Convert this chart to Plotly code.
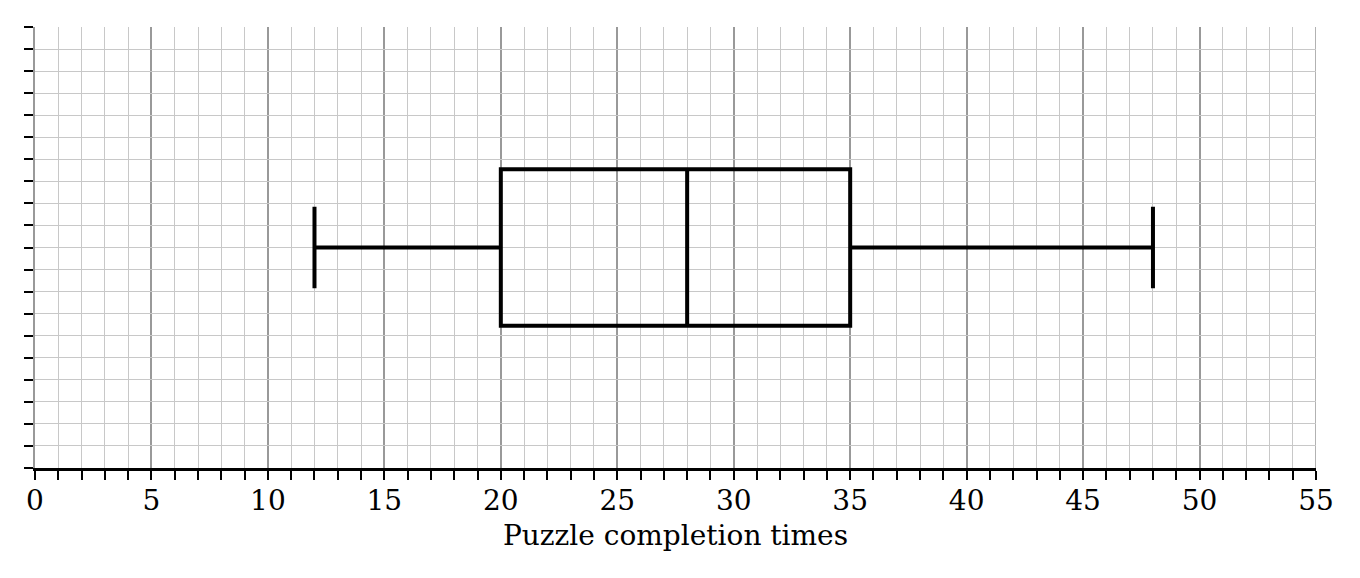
import plotly.graph_objects as go

# five-number summary
label = 'Puzzle completion times'
low = [12]
q1 = [20]
median = [28]
q3 = [35]
high = [48]
ypos = [10]

trace = go.Box(
    y=ypos, q1=q1, median=median, q3=q3,
    lowerfence=low, upperfence=high,
    orientation='h', width=7.1, whiskerwidth=0.52,
    line=dict(color='black', width=4),
    fillcolor='rgba(0,0,0,0)',
    boxpoints=False, showlegend=False, hoverinfo='skip',
)

serif = 'DejaVu Serif'
layout = go.Layout(
    width=1352, height=570,
    margin=dict(l=27, r=44, t=19, b=110),
    plot_bgcolor='white', paper_bgcolor='white',
    font=dict(family=serif, color='black', size=28),
    xaxis=dict(
        range=[0, 55], dtick=5, tick0=0,
        showgrid=True, gridcolor='#999999', gridwidth=1.5,
        ticks='outside', ticklen=9, tickwidth=2, tickcolor='black',
        tickfont=dict(family=serif, size=28), ticklabelstandoff=-4,
        showline=True, linecolor='black', linewidth=3,
        zeroline=False,
        minor=dict(dtick=1, showgrid=True, gridcolor='#c8c8c8', gridwidth=1,
                   ticks='outside', ticklen=9, tickwidth=1.5, tickcolor='black'),
        title=dict(text=label, font=dict(family=serif, size=28), standoff=10),
    ),
    yaxis=dict(
        range=[0, 20], dtick=1, tick0=0,
        showgrid=True, gridcolor='#c8c8c8', gridwidth=1,
        ticks='outside', ticklen=9, tickwidth=2, tickcolor='black',
        showticklabels=False,
        showline=True, linecolor='#999999', linewidth=1.5,
        zeroline=False,
    ),
)

fig = go.Figure(data=[trace], layout=layout)
fig.add_shape(type='line', xref='x', yref='paper', x0=55, x1=55, y0=0, y1=1,
              line=dict(color='#999999', width=1.5), layer='below')
fig.write_html("out.html")
